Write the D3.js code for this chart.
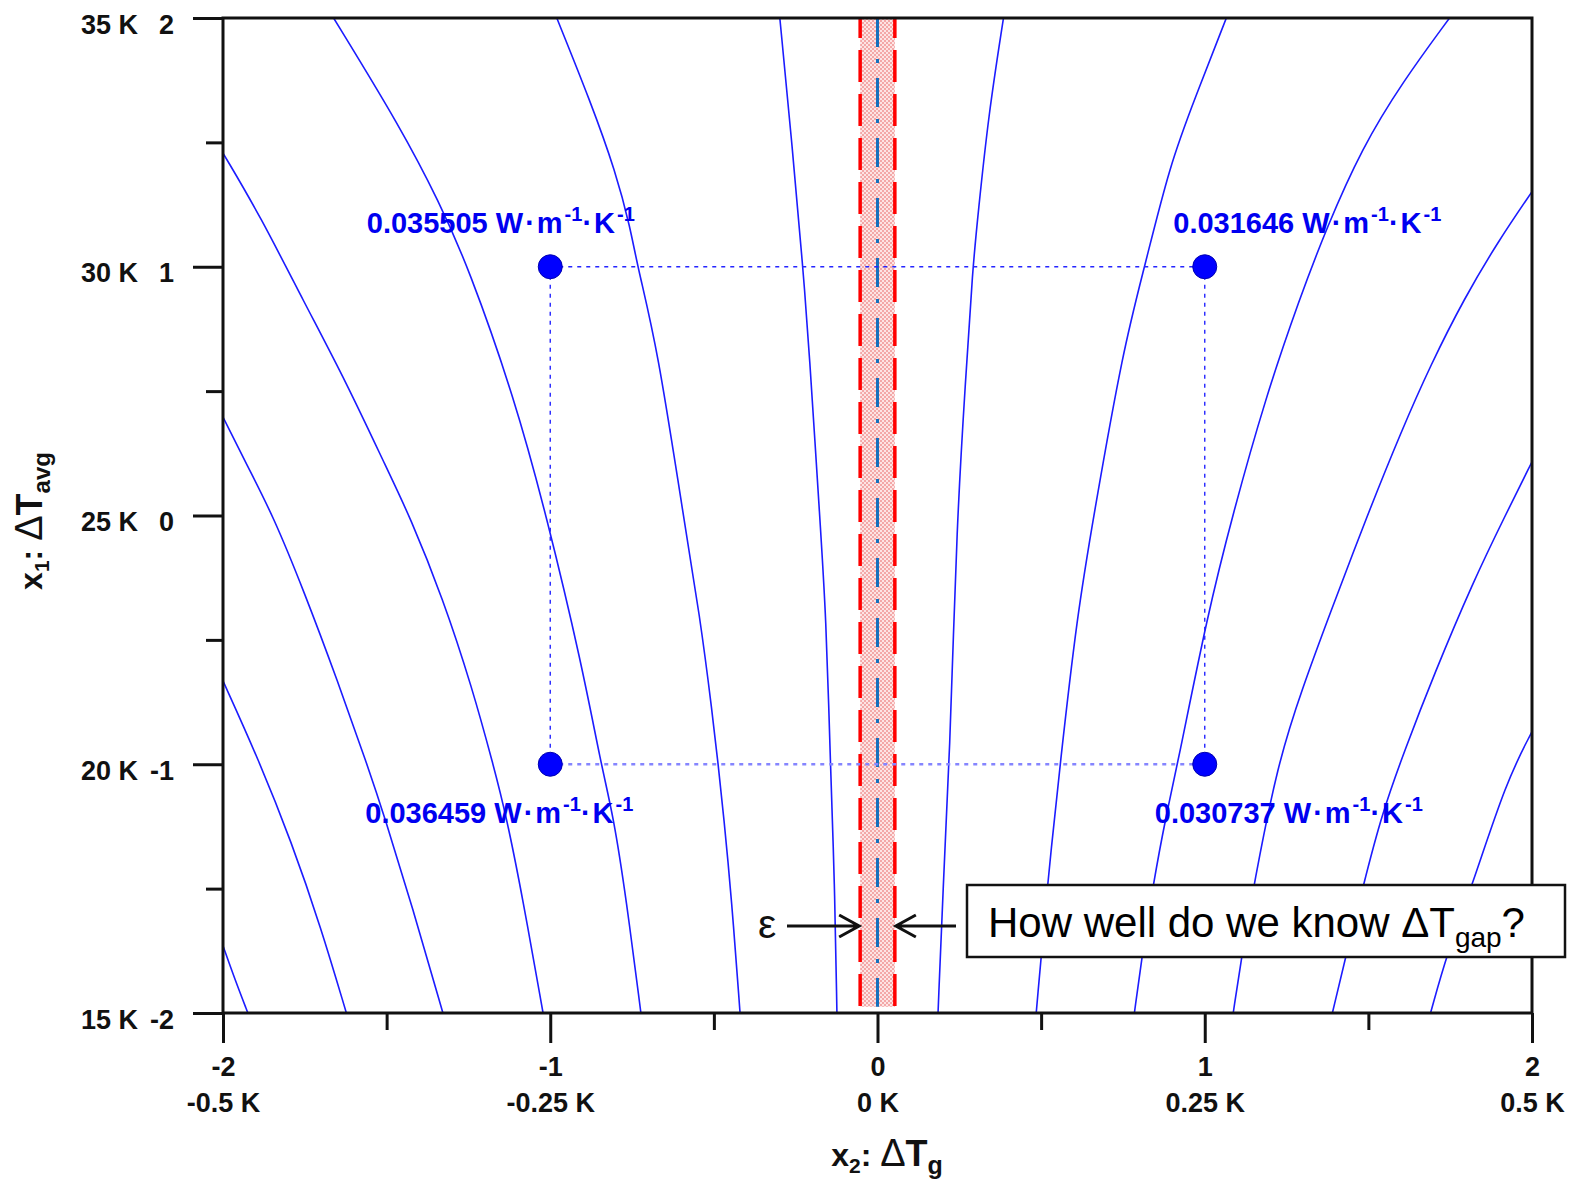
<!DOCTYPE html>
<html><head><meta charset="utf-8">
<script src="https://cdn.jsdelivr.net/npm/d3@7"></script>
<style>
body{margin:0;background:#fff;}
svg{display:block;font-family:"Liberation Sans",Arial,sans-serif;}
</style>
</head><body>
<svg id="chart" width="1579" height="1184"></svg>
<script>
// ---------------- data ----------------
const xTicks = [-2, -1, 0, 1, 2];
const xTickK = ["-0.5 K", "-0.25 K", "0 K", "0.25 K", "0.5 K"];
const xMinor = [-1.5, -0.5, 0.5, 1.5];
const yTicks = [-2, -1, 0, 1, 2];
const yTickK = ["15 K", "20 K", "25 K", "30 K", "35 K"];
const yMinor = [-1.5, -0.5, 0.5, 1.5];

// design points (x2, x1) and their conductivity values
const designX2 = [-1, 1, -1, 1];
const designX1 = [1, 1, -1, -1];
const designK = ["0.035505", "0.031646", "0.036459", "0.030737"];

// uncertainty band half-width (epsilon) on x2 around 0
const epsilon = 0.053;
const bandBottom = -1.975;

// contour lines: [x2, x1]
const contourA = [[-2, -1.73], [-1.963, -1.867], [-1.924, -2]];
const contourB = [[-2, -0.665], [-1.893, -0.976], [-1.791, -1.311], [-1.700, -1.659], [-1.623, -2]];
const contourC = [[-2, 0.396], [-1.924, 0.195], [-1.848, 0.002], [-1.752, -0.306], [-1.649, -0.668], [-1.559, -1.003], [-1.508, -1.204], [-1.414, -1.606], [-1.328, -2]];
const contourD = [[-2, 1.457], [-1.887, 1.206], [-1.753, 0.859], [-1.624, 0.538], [-1.495, 0.176], [-1.431, 0.002], [-1.328, -0.333], [-1.238, -0.695], [-1.174, -1.003], [-1.135, -1.204], [-1.084, -1.539], [-1.022, -2]];
const contourE = [[-1.662, 2], [-1.456, 1.557], [-1.340, 1.262], [-1.250, 0.998], [-1.109, 0.471], [-1.012, 0.002], [-0.903, -0.601], [-0.845, -1.0], [-0.807, -1.208], [-0.768, -1.539], [-0.723, -2]];
const contourF = [[-0.980, 2], [-0.877, 1.664], [-0.800, 1.382], [-0.755, 1.155], [-0.733, 0.998], [-0.672, 0.672], [-0.594, 0.002], [-0.543, -0.4], [-0.504, -0.802], [-0.487, -1.0], [-0.470, -1.208], [-0.446, -1.539], [-0.420, -2]];
const contourG = [[-0.2985, 2], [-0.260, 1.476], [-0.228, 0.998], [-0.209, 0.672], [-0.177, 0.002], [-0.157, -0.4], [-0.144, -1.0], [-0.131, -1.472], [-0.124, -2]];
const contourH = [[0.385, 2], [0.339, 1.610], [0.307, 1.208], [0.291, 0.998], [0.269, 0.538], [0.243, 0.002], [0.220, -1.0], [0.200, -1.5], [0.185, -2]];
const contourI = [[1.066, 2], [0.970, 1.677], [0.893, 1.409], [0.816, 0.998], [0.751, 0.672], [0.661, 0.002], [0.610, -0.4], [0.558, -1.0], [0.520, -1.472], [0.485, -2]];
const contourJ = [[1.748, 2], [1.605, 1.744], [1.480, 1.477], [1.372, 1.155], [1.290, 0.873], [1.185, 0.471], [1.085, 0.002], [1.008, -0.4], [0.917, -1.0], [0.882, -1.204], [0.842, -1.486], [0.808, -1.774], [0.785, -2]];
const contourK = [[2, 1.302], [1.896, 1.101], [1.793, 0.873], [1.690, 0.605], [1.600, 0.337], [1.497, 0.002], [1.381, -0.4], [1.298, -0.695], [1.222, -1.0], [1.150, -1.485], [1.113, -1.770], [1.087, -2]];
const contourL = [[2, 0.216], [1.919, 0.002], [1.820, -0.266], [1.700, -0.641], [1.613, -0.936], [1.540, -1.204], [1.485, -1.485], [1.432, -1.767], [1.390, -2]];
const contourM = [[2, -0.869], [1.921, -1.070], [1.818, -1.485], [1.742, -1.754], [1.690, -2]];
const contours = [contourA, contourB, contourC, contourD, contourE, contourF, contourG,
                  contourH, contourI, contourJ, contourK, contourL, contourM];

// ---------------- layout ----------------
const svg = d3.select("#chart");
const plot = {left: 223, right: 1532, top: 18, bottom: 1013};
const x = d3.scaleLinear().domain([-2, 2]).range([plot.left, plot.right]);
const y = d3.scaleLinear().domain([-2, 2]).range([plot.bottom, plot.top]);
const FONT = '"Liberation Sans", Arial, sans-serif';
const INK = "#111";

const defs = svg.append("defs");
defs.append("clipPath").attr("id", "clip").append("rect")
  .attr("x", plot.left).attr("y", plot.top)
  .attr("width", plot.right - plot.left).attr("height", plot.bottom - plot.top);
const pat = defs.append("pattern").attr("id", "pinkdots")
  .attr("width", 4).attr("height", 4).attr("patternUnits", "userSpaceOnUse");
pat.append("rect").attr("width", 4).attr("height", 4).attr("fill", "#fde4e4");
pat.append("rect").attr("width", 2).attr("height", 2).attr("fill", "#f3a8a8");
pat.append("rect").attr("x", 2).attr("y", 2).attr("width", 2).attr("height", 2).attr("fill", "#f3a8a8");

// ---------------- band ----------------
const band = svg.append("g");
band.append("rect")
  .attr("x", x(-epsilon)).attr("y", y(2))
  .attr("width", x(epsilon) - x(-epsilon)).attr("height", y(bandBottom) - y(2))
  .attr("fill", "url(#pinkdots)");
[-epsilon, epsilon].forEach(v => {
  band.append("line")
    .attr("x1", x(v)).attr("x2", x(v)).attr("y1", y(2)).attr("y2", y(bandBottom))
    .attr("stroke", "#ff0000").attr("stroke-width", 3.5)
    .attr("stroke-dasharray", "32,12").attr("stroke-dashoffset", 12);
});
band.append("line")
  .attr("x1", x(0)).attr("x2", x(0)).attr("y1", y(2)).attr("y2", y(bandBottom))
  .attr("stroke", "#1570bd").attr("stroke-width", 3)
  .attr("stroke-dasharray", "29,12,4,15");

// ---------------- contours ----------------
const line = d3.line().x(d => x(d[0])).y(d => y(d[1])).curve(d3.curveBasis);
svg.append("g").attr("clip-path", "url(#clip)")
  .selectAll("path").data(contours).join("path")
  .attr("d", line).attr("fill", "none")
  .attr("stroke", "#1c1cff").attr("stroke-width", 1.6);

// ---------------- design square ----------------
const sq = svg.append("g");
const seg = (a, b, color, w) => sq.append("line")
  .attr("x1", x(designX2[a])).attr("y1", y(designX1[a]))
  .attr("x2", x(designX2[b])).attr("y2", y(designX1[b]))
  .attr("stroke", color).attr("stroke-width", w).attr("stroke-dasharray", "4,5");
seg(0, 1, "#2525ff", 1.4);
seg(0, 2, "#2525ff", 1.4);
seg(1, 3, "#2525ff", 1.4);
seg(2, 3, "#8585ff", 2.6);

svg.append("g").selectAll("circle").data(designK).join("circle")
  .attr("cx", (d, i) => x(designX2[i])).attr("cy", (d, i) => y(designX1[i]))
  .attr("r", 12).attr("fill", "#0000ff").attr("stroke", "#0000b0").attr("stroke-width", 1);

const labelDx = [-183.5, -31.5, -185, -50];
const labelDy = [-33.5, -33.5, 59, 59];
const labels = svg.append("g").attr("font-family", FONT).attr("font-weight", "bold")
  .attr("font-size", 29).attr("fill", "#0000f0");
designK.forEach((k, i) => {
  const t = labels.append("text")
    .attr("x", x(designX2[i]) + labelDx[i]).attr("y", y(designX1[i]) + labelDy[i]);
  t.append("tspan").text(k + " ");
  t.append("tspan").attr("letter-spacing", 2).text("W\u00B7m");
  t.append("tspan").attr("font-size", 20).attr("dy", -12).text("-1");
  t.append("tspan").attr("letter-spacing", 2).attr("dy", 12).text("\u00B7K");
  t.append("tspan").attr("font-size", 20).attr("dy", -12).text("-1");
});

// ---------------- frame & axes ----------------
svg.append("rect")
  .attr("x", plot.left).attr("y", plot.top)
  .attr("width", plot.right - plot.left).attr("height", plot.bottom - plot.top)
  .attr("fill", "none").attr("stroke", INK).attr("stroke-width", 3);

function styleAxis(g) {
  g.attr("font-family", null).attr("font-size", null);
  g.select(".domain").remove();
  g.selectAll(".tick line").attr("stroke", INK).attr("stroke-width", 3);
  g.selectAll(".tick text").attr("font-family", FONT).attr("font-size", 27)
    .attr("font-weight", "bold").attr("fill", INK);
}

const gy = svg.append("g").attr("transform", `translate(${plot.left},0)`)
  .call(d3.axisLeft(y).tickValues(yTicks).tickSize(30).tickPadding(19).tickFormat(d => String(d)));
styleAxis(gy);
gy.selectAll(".tick text").attr("dy", 15);
gy.selectAll(".tick").append("text")
  .attr("x", -85).attr("dy", 15).attr("fill", INK)
  .attr("font-family", FONT).attr("font-size", 27).attr("font-weight", "bold")
  .text(d => yTickK[yTicks.indexOf(d)]);

const gyMinor = svg.append("g").attr("transform", `translate(${plot.left},0)`)
  .call(d3.axisLeft(y).tickValues(yMinor).tickSize(17).tickFormat(() => ""));
styleAxis(gyMinor);

const gx = svg.append("g").attr("transform", `translate(0,${plot.bottom})`)
  .call(d3.axisBottom(x).tickValues(xTicks).tickSize(30).tickFormat(d => String(d)));
styleAxis(gx);
gx.selectAll(".tick text").attr("dy", null).attr("y", 63);
gx.selectAll(".tick").append("text")
  .attr("y", 99).attr("fill", INK)
  .attr("font-family", FONT).attr("font-size", 27).attr("font-weight", "bold")
  .text(d => xTickK[xTicks.indexOf(d)]);

const gxMinor = svg.append("g").attr("transform", `translate(0,${plot.bottom})`)
  .call(d3.axisBottom(x).tickValues(xMinor).tickSize(17).tickFormat(() => ""));
styleAxis(gxMinor);

// axis titles
const xt = svg.append("text").attr("x", 887).attr("y", 1166)
  .attr("text-anchor", "middle").attr("font-family", FONT).attr("fill", INK);
xt.append("tspan").attr("font-weight", "bold").attr("font-size", 32).text("x");
xt.append("tspan").attr("font-weight", "bold").attr("font-size", 21).attr("dy", 7).text("2");
xt.append("tspan").attr("font-weight", "bold").attr("font-size", 32).attr("dy", -7).text(": ");
xt.append("tspan").attr("font-size", 38).text("\u0394");
xt.append("tspan").attr("font-weight", "bold").attr("font-size", 36).text("T");
xt.append("tspan").attr("font-weight", "bold").attr("font-size", 25).attr("dy", 8).text("g");

const yt = svg.append("text").attr("transform", "translate(42,521) rotate(-90)")
  .attr("text-anchor", "middle").attr("font-family", FONT).attr("fill", INK);
yt.append("tspan").attr("font-weight", "bold").attr("font-size", 32).text("x");
yt.append("tspan").attr("font-weight", "bold").attr("font-size", 21).attr("dy", 7).text("1");
yt.append("tspan").attr("font-weight", "bold").attr("font-size", 32).attr("dy", -7).text(": ");
yt.append("tspan").attr("font-size", 38).text("\u0394");
yt.append("tspan").attr("font-weight", "bold").attr("font-size", 36).text("T");
yt.append("tspan").attr("font-weight", "bold").attr("font-size", 24).attr("dy", 8).text("avg");

// ---------------- annotation ----------------
const ann = svg.append("g");
const arrowY = 926;
ann.append("text").attr("x", 758).attr("y", 938)
  .attr("font-family", FONT).attr("font-size", 41).attr("fill", INK).text("\u03B5");
const lt = x(-epsilon) - 1, rt = x(epsilon) + 1;
ann.append("path")
  .attr("d", `M787,${arrowY}H${lt} M${lt - 20},${arrowY - 11}L${lt},${arrowY}L${lt - 20},${arrowY + 11}`)
  .attr("fill", "none").attr("stroke", INK).attr("stroke-width", 3);
ann.append("path")
  .attr("d", `M956,${arrowY}H${rt} M${rt + 20},${arrowY - 11}L${rt},${arrowY}L${rt + 20},${arrowY + 11}`)
  .attr("fill", "none").attr("stroke", INK).attr("stroke-width", 3);

ann.append("rect").attr("x", 967).attr("y", 885).attr("width", 598).attr("height", 72)
  .attr("fill", "#fff").attr("stroke", INK).attr("stroke-width", 2.5);
const q = ann.append("text").attr("x", 988).attr("y", 937)
  .attr("font-family", FONT).attr("font-size", 42).attr("fill", "#000");
q.append("tspan").text("How well do we know \u0394T");
q.append("tspan").attr("font-size", 28).attr("dy", 10).text("gap");
q.append("tspan").attr("dy", -10).text("?");
</script>
</body></html>
